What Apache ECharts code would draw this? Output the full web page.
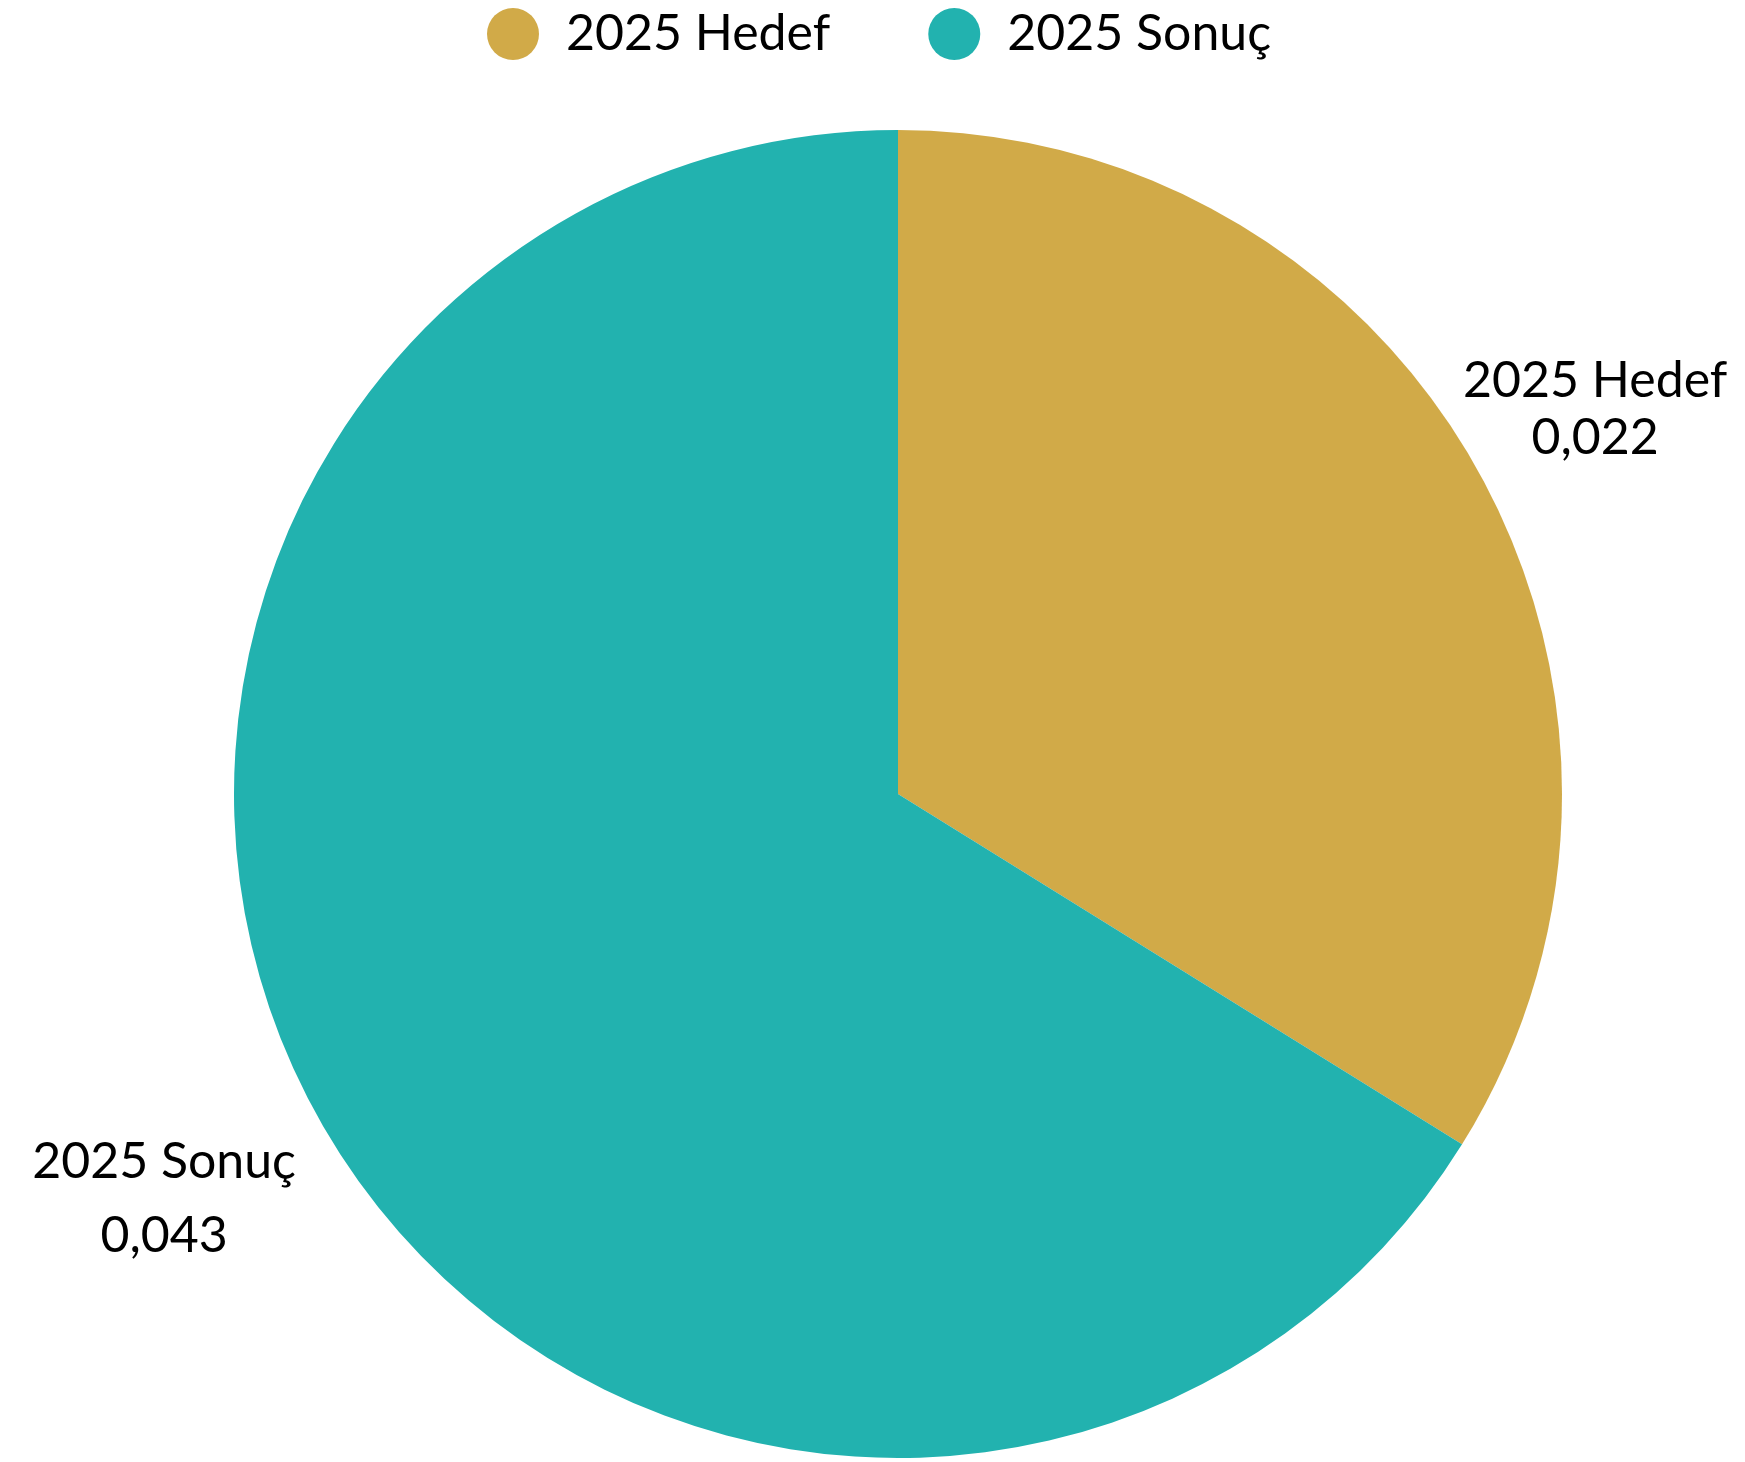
<!DOCTYPE html>
<html>
<head>
<meta charset="utf-8">
<script src="https://cdn.jsdelivr.net/npm/echarts@6/dist/echarts.min.js"></script>
<style>
html,body{margin:0;padding:0;background:#fff;}
#chart{width:1745px;height:1462px;}
</style>
</head>
<body>
<div id="chart"></div>
<script>
const categories = ['2025 Hedef', '2025 Sonuç'];
const values = [0.022, 0.043];
const colors = ['#D1AA48', '#22B2AF'];
const labelLineHeights = [57, 74];
const labelLineLengths = [128, 170];

const chart = echarts.init(document.getElementById('chart'), null, {renderer: 'canvas'});
const FONT = 'Lato';
const FONT_SIZE = 50;
const FONT_WEIGHT = 400;

const data = categories.map((name, i) => ({
  name: name,
  value: values[i],
  itemStyle: {color: colors[i]},
  label: {lineHeight: labelLineHeights[i]},
  labelLine: {length: labelLineLengths[i]}
}));

chart.setOption({
  animation: false,
  backgroundColor: '#ffffff',
  legend: {
    left: 482,
    top: 3,
    icon: 'circle',
    itemWidth: 52,
    itemHeight: 52,
    itemGap: 98,
    textStyle: {
      fontFamily: FONT,
      fontSize: FONT_SIZE,
      fontWeight: FONT_WEIGHT,
      color: '#000000',
      padding: [0, 0, 0, 22]
    },
    data: categories
  },
  series: [{
    type: 'pie',
    center: [898, 794],
    radius: [0, 664],
    startAngle: 90,
    clockwise: true,
    avoidLabelOverlap: false,
    data: data,
    label: {
      show: true,
      position: 'outside',
      formatter: function (p) {
        return p.name + '\n' + String(p.value).replace('.', ',');
      },
      fontFamily: FONT,
      fontSize: FONT_SIZE,
      fontWeight: FONT_WEIGHT,
      color: '#000000',
      width: 340,
      overflow: 'none'
    },
    labelLine: {show: false, length2: 0},
    labelLayout: function () {
      return {align: 'center', verticalAlign: 'middle'};
    },
    emphasis: {disabled: true}
  }]
});
</script>
</body>
</html>
